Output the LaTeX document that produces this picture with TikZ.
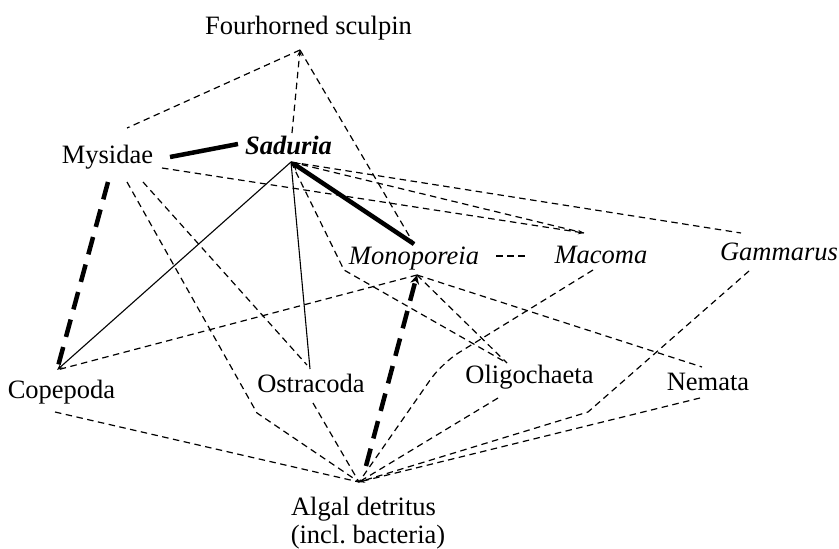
\documentclass[tikz,border=0pt]{standalone}
\usepackage{fontspec}
\setmainfont{Liberation Serif}
\usetikzlibrary{arrows.meta}
\begin{document}
\begin{tikzpicture}[x=1pt,y=-1pt,
  lbl/.style={anchor=base, inner sep=0pt, font=\fontsize{26.5}{30}\selectfont},
  dsh/.style={line width=1.2pt, dash pattern=on 6.5pt off 4.5pt},
  thk/.style={line width=4.5pt},
  thkdash/.style={line width=4.5pt, dash pattern=on 18pt off 10.5pt},
  thinline/.style={line width=1.1pt},
  tip/.style={-{Stealth[length=6pt,width=4.5pt]}},
  bigtip/.style={-{Stealth[length=9pt,width=9pt]}}
]
\useasboundingbox (0,0) rectangle (839,549);
% labels
\node[lbl] (sculpin) at (308.5,34) {Fourhorned sculpin};
\node[lbl] (mys) at (107.5,163) {Mysidae};
\node[lbl] (sad) at (288.5,154) {\textbf{\textit{Saduria}}};
\node[lbl] (mono) at (414,264) {\textit{Monoporeia}};
\node[lbl] (mac) at (601,263) {\textit{Macoma}};
\node[lbl] (gam) at (779,260) {\textit{Gammarus}};
\node[lbl] (cop) at (61.5,398) {Copepoda};
\node[lbl] (ost) at (311,392) {Ostracoda};
\node[lbl] (oli) at (529.5,383) {Oligochaeta};
\node[lbl] (nem) at (708,390) {Nemata};
\node[lbl] (alg) at (363.5,515) {Algal detritus};
\node[lbl] (algb) at (368,543) {(incl.\ bacteria)};
% attachment points
\coordinate (sculA) at (300,50);
\coordinate (sadA) at (291,162);
\coordinate (sadTop) at (292,133);
\coordinate (mysNE) at (127,128);
\coordinate (mysR) at (170,157);
\coordinate (sadL) at (238,144);
\coordinate (mysE) at (162,168);
\coordinate (mysS1) at (108,182);
\coordinate (mysS2) at (127,182);
\coordinate (mysS3) at (143,182);
\coordinate (monoT) at (414,244);
\coordinate (monoB) at (417,275);
\coordinate (monoR) at (496,256);
\coordinate (macL) at (528,256);
\coordinate (macT) at (584,233);
\coordinate (macB) at (593,270);
\coordinate (gamT) at (741,233);
\coordinate (gamB) at (749,271);
\coordinate (copA) at (57,370);
\coordinate (copB) at (55,412);
\coordinate (ostT) at (310,369);
\coordinate (ostT2) at (307,365);
\coordinate (ostB) at (313,403);
\coordinate (oliT) at (507,363);
\coordinate (oliB) at (498,398);
\coordinate (nemT) at (702,367);
\coordinate (nemB) at (700,398);
\coordinate (algA) at (359,482);
\coordinate (algT) at (366,466);
\coordinate (bendMys) at (257,413);
\coordinate (bendSad) at (344,270);
\coordinate (bendMac) at (442,363);
\coordinate (bendGam) at (588,412);
% connectors
\draw[dsh] (sculA) -- (mysNE);
\draw[dsh,tip] (sadTop) -- (sculA);
\draw[dsh] (sculA) -- (monoT);
\draw[thk] (mysR) -- (sadL);
\draw[thkdash] (mysS1) -- (copA);
\draw[dsh] (mysS2) -- (bendMys) -- (algA);
\draw[dsh] (mysS3) -- (ostT2);
\draw[dsh,tip] (mysE) -- (macT);
\draw[thk,bigtip] (monoT) -- (sadA);
\draw[thinline,tip] (sadA) -- (copA);
\draw[thinline] (sadA) -- (ostT);
\draw[dsh] (sadA) -- (bendSad) -- (oliT);
\draw[dsh] (sadA) -- (macT);
\draw[dsh] (sadA) -- (gamT);
\draw[dsh] (monoR) -- (macL);
\draw[dsh] (monoB) -- (copA);
\draw[dsh] (monoB) -- (oliT);
\draw[dsh] (monoB) -- (nemT);
\draw[thkdash,bigtip] (algT) -- (monoB);
\draw[dsh] (copB) -- (algA);
\draw[dsh] (ostB) -- (algA);
\draw[dsh,rounded corners=20pt] (macB) -- (bendMac) -- (algA);
\draw[dsh] (oliB) -- (algA);
\draw[dsh] (gamB) -- (bendGam) -- (algA);
\draw[dsh,tip] (nemB) -- (algA);
\end{tikzpicture}
\end{document}
